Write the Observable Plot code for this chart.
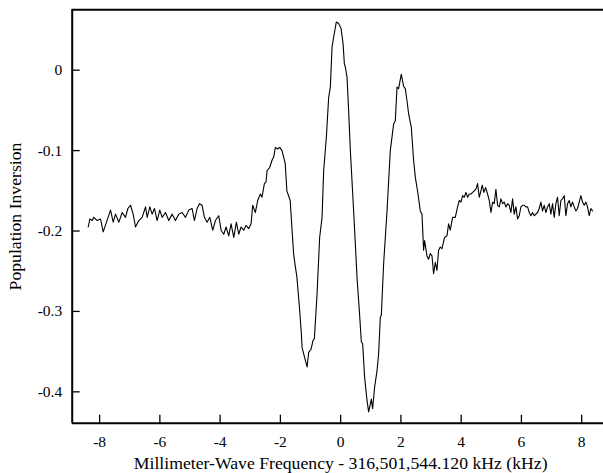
<!DOCTYPE html>
<html>
<head>
<meta charset="utf-8">
<script src="https://cdn.jsdelivr.net/npm/d3@7"></script>
<script src="https://cdn.jsdelivr.net/npm/@observablehq/plot@0.6"></script>
<style>
  html, body { margin: 0; padding: 0; background: white; overflow: hidden; }
  #wrap { width: 603px; height: 473px; overflow: hidden; }
  #wrap svg { max-width: none !important; }
</style>
</head>
<body>
<div id="wrap"></div>
<script>
// Frequency offset (kHz)
const freq = [
  -8.379,-8.324,-8.247,-8.191,-8.081,-7.970,-7.882,-7.771,-7.638,-7.550,
  -7.473,-7.362,-7.251,-7.141,-7.063,-6.975,-6.886,-6.809,-6.698,-6.588,
  -6.477,-6.422,-6.334,-6.256,-6.179,-6.091,-6.003,-5.925,-5.814,-5.704,
  -5.593,-5.483,-5.372,-5.262,-5.151,-5.040,-4.930,-4.853,-4.764,-4.687,
  -4.599,-4.521,-4.433,-4.344,-4.245,-4.156,-4.046,-3.968,-3.880,-3.803,
  -3.714,-3.637,-3.548,-3.460,-3.383,-3.305,-3.217,-3.140,-3.051,-2.974,
  -2.919,-2.830,-2.753,-2.664,-2.609,-2.532,-2.477,-2.443,-2.355,-2.278,
  -2.222,-2.167,-2.090,-2.023,-1.946,-1.841,-1.785,-1.675,-1.619,-1.562,
  -1.509,-1.453,-1.376,-1.310,-1.280,-1.171,-1.114,-1.061,-0.982,-0.915,
  -0.872,-0.783,-0.697,-0.617,-0.564,-0.474,-0.398,-0.342,-0.285,-0.232,
  -0.143,-0.066,0.013,0.080,0.123,0.156,0.212,0.265,0.322,0.431,
  0.544,0.620,0.687,0.730,0.796,0.876,0.929,0.985,1.018,1.061,
  1.128,1.207,1.260,1.317,1.350,1.426,1.539,1.648,1.758,1.814,
  1.871,1.924,2.013,2.090,2.146,2.202,2.255,2.345,2.421,2.478,
  2.567,2.643,2.700,2.753,2.786,2.866,2.919,2.975,3.032,3.085,
  3.141,3.197,3.250,3.307,3.363,3.449,3.529,3.582,3.638,3.715,
  3.804,3.882,3.937,3.992,4.048,4.103,4.158,4.214,4.269,4.324,
  4.380,4.435,4.490,4.545,4.601,4.656,4.700,4.755,4.811,4.877,
  4.932,4.988,5.043,5.098,5.153,5.209,5.264,5.319,5.374,5.430,
  5.485,5.540,5.596,5.651,5.706,5.761,5.817,5.872,5.927,5.983,
  6.038,6.093,6.148,6.204,6.259,6.314,6.370,6.425,6.480,6.536,
  6.591,6.646,6.701,6.757,6.812,6.867,6.923,6.978,7.033,7.088,
  7.144,7.199,7.254,7.310,7.365,7.420,7.476,7.531,7.586,7.641,
  7.697,7.752,7.807,7.863,7.918,7.973,8.028,8.084,8.139,8.194,
  8.250,8.305,8.360
];
// Population inversion
const inversion = [
  -0.195,-0.185,-0.187,-0.183,-0.187,-0.185,-0.201,-0.189,-0.174,-0.189,
  -0.179,-0.189,-0.177,-0.183,-0.172,-0.168,-0.179,-0.195,-0.187,-0.183,
  -0.170,-0.183,-0.170,-0.179,-0.172,-0.187,-0.174,-0.183,-0.177,-0.187,
  -0.179,-0.187,-0.179,-0.177,-0.183,-0.174,-0.172,-0.187,-0.172,-0.166,
  -0.168,-0.183,-0.189,-0.183,-0.199,-0.187,-0.181,-0.199,-0.204,-0.195,
  -0.206,-0.191,-0.208,-0.189,-0.204,-0.195,-0.199,-0.193,-0.197,-0.191,
  -0.168,-0.177,-0.162,-0.154,-0.158,-0.141,-0.139,-0.125,-0.121,-0.112,
  -0.108,-0.096,-0.098,-0.096,-0.100,-0.116,-0.150,-0.162,-0.195,-0.228,
  -0.243,-0.257,-0.291,-0.324,-0.345,-0.361,-0.369,-0.351,-0.347,-0.336,
  -0.334,-0.278,-0.208,-0.183,-0.125,-0.083,-0.034,-0.021,0.029,0.041,
  0.060,0.058,0.052,0.033,0.008,0.004,-0.009,-0.050,-0.100,-0.175,
  -0.258,-0.299,-0.338,-0.340,-0.382,-0.411,-0.425,-0.415,-0.409,-0.421,
  -0.394,-0.374,-0.353,-0.307,-0.305,-0.241,-0.175,-0.100,-0.067,-0.063,
  -0.021,-0.023,-0.005,-0.020,-0.023,-0.038,-0.054,-0.071,-0.112,-0.133,
  -0.154,-0.175,-0.179,-0.224,-0.212,-0.231,-0.235,-0.228,-0.231,-0.253,
  -0.239,-0.249,-0.224,-0.220,-0.222,-0.208,-0.206,-0.191,-0.199,-0.183,
  -0.183,-0.170,-0.162,-0.164,-0.156,-0.158,-0.152,-0.158,-0.154,-0.154,
  -0.152,-0.150,-0.148,-0.141,-0.158,-0.150,-0.143,-0.152,-0.146,-0.154,
  -0.162,-0.177,-0.164,-0.166,-0.148,-0.168,-0.170,-0.160,-0.166,-0.164,
  -0.170,-0.166,-0.168,-0.177,-0.160,-0.179,-0.170,-0.185,-0.181,-0.170,
  -0.168,-0.168,-0.170,-0.170,-0.177,-0.181,-0.177,-0.181,-0.179,-0.177,
  -0.172,-0.164,-0.175,-0.168,-0.177,-0.170,-0.166,-0.179,-0.166,-0.183,
  -0.166,-0.158,-0.181,-0.162,-0.160,-0.156,-0.181,-0.166,-0.162,-0.170,
  -0.164,-0.170,-0.175,-0.172,-0.164,-0.156,-0.164,-0.168,-0.164,-0.170,
  -0.181,-0.172,-0.175
];
const xTicks = [-8, -6, -4, -2, 0, 2, 4, 6, 8];
const yTicks = [0, -0.1, -0.2, -0.3, -0.4];
const xTitle = "Millimeter-Wave Frequency - 316,501,544.120 kHz (kHz)";
const yTitle = "Population Inversion";

const data = freq.map((f, i) => ({f, v: inversion[i]}));

const W = 609, H = 473;
const mT = 9.3, mB = 50.3, mL = 71.7, mR = 0.4;
const plotW = W - mL - mR, plotH = H - mT - mB;
const xDom = [-8.91, 8.91], yDom = [-0.439, 0.0751];

const chart = Plot.plot({
  width: W,
  height: H,
  marginTop: mT,
  marginBottom: mB,
  marginLeft: mL,
  marginRight: mR,
  style: {fontFamily: "'Liberation Serif', 'Times New Roman', serif", fontSize: "15.5px", background: "white", color: "black", maxWidth: "none"},
  x: {domain: xDom},
  y: {domain: yDom},
  marks: [
    Plot.axisX(xTicks, {tickSize: 0, tickPadding: 13, tickFormat: d => String(d), label: null, fontSize: 15.5}),
    Plot.axisY(yTicks, {tickSize: 0, tickPadding: 10, tickFormat: d => String(d), label: null, fontSize: 15.5}),
    Plot.tickX(xTicks, {x: d => d, insetTop: plotH - 8, stroke: "black", strokeWidth: 1.3}),
    Plot.tickY(yTicks, {y: d => d, insetRight: plotW - 8, stroke: "black", strokeWidth: 1.3}),
    Plot.ruleX([xDom[0]], {stroke: "black", strokeWidth: 2}),
    Plot.ruleY([yDom[0]], {stroke: "black", strokeWidth: 2}),
    Plot.ruleY([yDom[1]], {stroke: "black", strokeWidth: 2}),
    Plot.line(data, {x: "f", y: "v", stroke: "black", strokeWidth: 1.1}),
    Plot.text([xTitle], {frameAnchor: "bottom", lineAnchor: "middle", textAnchor: "middle", dy: 40.5, fontSize: 17.7, fill: "black"}),
    Plot.text([yTitle], {frameAnchor: "left", lineAnchor: "middle", textAnchor: "middle", dx: -57, rotate: -90, fontSize: 17.7, fill: "black"})
  ]
});
chart.style.maxWidth = "none";
document.getElementById("wrap").appendChild(chart);
</script>
</body>
</html>
